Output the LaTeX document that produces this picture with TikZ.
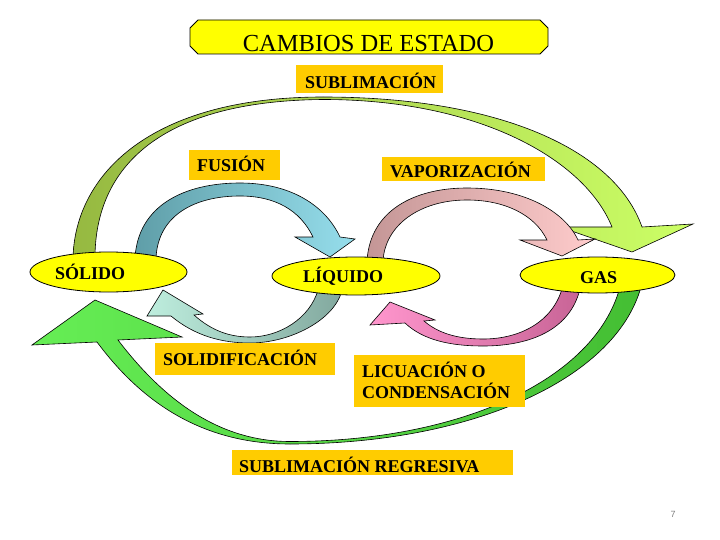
\documentclass[tikz,border=0pt]{standalone}
\usepackage{fontspec}
\setmainfont{Liberation Serif}
\newfontfamily\pgnumfont{Liberation Sans}
\usetikzlibrary{shapes.geometric}
\definecolor{ylw}{RGB}{255,255,0}
\definecolor{org}{RGB}{255,204,0}
\definecolor{olv}{RGB}{150,185,65}
\definecolor{lgr}{RGB}{204,255,102}
\definecolor{tealA}{RGB}{95,158,168}
\definecolor{cyanA}{RGB}{150,222,236}
\definecolor{roseA}{RGB}{196,150,150}
\definecolor{pinkA}{RGB}{255,204,204}
\definecolor{paleA}{RGB}{190,238,222}
\definecolor{grtA}{RGB}{130,168,158}
\definecolor{pinkB}{RGB}{255,150,205}
\definecolor{mauveB}{RGB}{200,100,150}
\definecolor{grnL}{RGB}{102,238,85}
\definecolor{grnR}{RGB}{68,190,51}
\begin{document}
\begin{tikzpicture}[x=1pt,y=-1pt,
  ell/.style={ellipse, draw=black, line width=0.8pt, fill=ylw, inner sep=0pt},
  box/.style={fill=org, inner sep=0pt, anchor=north west},
  lab/.style={font=\fontsize{18}{21}\selectfont\bfseries, inner sep=0pt, anchor=base west},
  blk/.style={draw=black, line width=0.6pt}]
\useasboundingbox (0,0) rectangle (720,540);
\fill[white] (0,0) rectangle (720,540);

% title banner
\draw[fill=ylw, line width=0.8pt] (198,20) -- (540,20) -- (548,28) -- (548,46) -- (540,54) -- (198,54) -- (190,46) -- (190,28) -- cycle;
\node[font=\fontsize{24.5}{28}\selectfont, inner sep=0pt, anchor=base] (title) at (368.5,52) {CAMBIOS DE ESTADO};

% sublimacion (top big arrow)
\shadedraw[blk, left color=olv, right color=lgr]
 (73,258) .. controls (75,175) and (150,97) .. (323,97)
 .. controls (500,97) and (615,150) .. (642,227)
 -- (693,224) -- (632,252) -- (560,227) -- (612,227)
 .. controls (585,160) and (480,99.5) .. (323,99.5)
 .. controls (150,101) and (95,175) .. (95,258) -- cycle;

% fusion
\shadedraw[blk, left color=tealA, right color=cyanA]
 (135,258) .. controls (138,205) and (185,183) .. (240,183)
 .. controls (290,183) and (325,205) .. (340,237)
 -- (355,239) -- (330,257) -- (295,237) -- (313,237)
 .. controls (300,210) and (275,196) .. (240,196)
 .. controls (195,196) and (158,215) .. (156,258) -- cycle;

% vaporizacion
\shadedraw[blk, left color=roseA, right color=pinkA]
 (367,261) .. controls (370,210) and (415,188) .. (467,188)
 .. controls (525,188) and (565,212) .. (578,240)
 -- (595,239) -- (562,256) -- (520,240) -- (547,240)
 .. controls (535,215) and (505,200) .. (467,200)
 .. controls (420,200) and (385,225) .. (383,261) -- cycle;

% solidificacion
\shadedraw[blk, left color=paleA, right color=grtA]
 (342,290) .. controls (335,320) and (290,343) .. (250,343)
 .. controls (222,343) and (195,336) .. (171,316)
 -- (147,316) -- (163,290) -- (203,314) -- (194,315)
 .. controls (212,331) and (230,337) .. (250,337)
 .. controls (280,337) and (310,318) .. (318,290) -- cycle;

% licuacion
\shadedraw[blk, left color=pinkB, right color=mauveB]
 (580,289) .. controls (570,330) and (530,346) .. (483,346)
 .. controls (450,346) and (423,340) .. (405,323)
 -- (370,325) -- (390,302) -- (435,320) -- (424,321)
 .. controls (438,333) and (457,339) .. (483,339)
 .. controls (520,339) and (552,322) .. (562,289) -- cycle;

% sublimacion regresiva
\shadedraw[blk, left color=grnL, right color=grnR]
 (641,287) .. controls (615,380) and (470,444) .. (290,444)
 .. controls (200,444) and (140,400) .. (97,342)
 -- (32,345) -- (95,300) -- (182,337) -- (118,340)
 .. controls (160,395) and (215,441.5) .. (290,441.5)
 .. controls (460,441.5) and (595,380) .. (620,287) -- cycle;

% state ellipses
\node[ell, minimum width=157, minimum height=40] (sol) at (108.5,272) {};
\node[ell, minimum width=168, minimum height=38] (liq) at (356,276) {};
\node[ell, minimum width=155, minimum height=36] (gas) at (597.5,275) {};
\node[lab] (soltxt) at (55,279) {SÓLIDO};
\node[lab] (liqtxt) at (303,282) {LÍQUIDO};
\node[lab] (gastxt) at (580,283) {GAS};

% label boxes
\node[box, minimum width=147, minimum height=28] (bsub) at (296,65) {};
\node[lab] (tsub) at (305,89) {SUBLIMACIÓN};
\node[box, minimum width=91, minimum height=30] (bfus) at (189,150) {};
\node[lab] (tfus) at (197,172) {FUSIÓN};
\node[box, minimum width=163, minimum height=24] (bvap) at (382,157) {};
\node[lab] (tvap) at (390,178) {VAPORIZACIÓN};
\node[box, minimum width=180, minimum height=32] (bsol) at (155,343) {};
\node[lab] (tsol) at (163,365) {SOLIDIFICACIÓN};
\node[box, minimum width=171, minimum height=52] (blic) at (354,355) {};
\node[lab] (tlic1) at (362,377) {LICUACIÓN O};
\node[lab] (tlic2) at (362,398) {CONDENSACIÓN};
\node[box, minimum width=281, minimum height=25] (breg) at (232,450) {};
\node[lab] (treg) at (239,472) {SUBLIMACIÓN REGRESIVA};

\node[font=\pgnumfont\fontsize{9}{10}\selectfont, text=gray, inner sep=0pt] (pg) at (673,514) {7};
\end{tikzpicture}
\end{document}
